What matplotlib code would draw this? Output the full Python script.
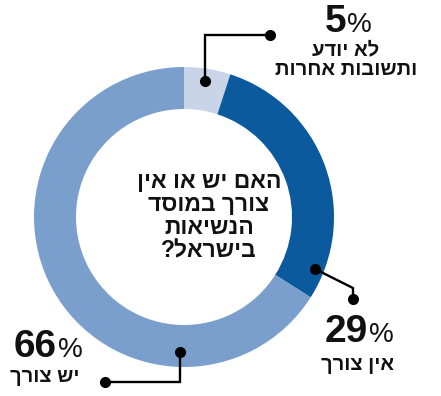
import matplotlib.pyplot as plt

plt.rcParams['font.family'] = ['Liberation Sans', 'DejaVu Sans']

# --- data ---
shares = [5, 29, 66]
colors = ['#c9d4e8', '#0b5a9e', '#7b9fcc']
pct_labels = ['5', '29', '66']
answer_labels = [['לא יודע', 'ותשובות אחרות'], ['אין צורך'], ['יש צורך']]
question = ['האם יש או אין', 'צורך במוסד', 'הנשיאות', 'בישראל?']

W, H = 441, 396


def rtl(s):
    # matplotlib has no bidi support, so flip Hebrew lines by hand
    return s[::-1]


def py(y):
    # pixel row (from top) -> data y
    return H - y


fig = plt.figure(figsize=(W / 100, H / 100), dpi=100)
ax = fig.add_axes([0, 0, 1, 1])

cx, cy = 184, py(217)
ax.pie(shares, colors=colors, startangle=90, counterclock=False,
       center=(cx, cy), radius=150, wedgeprops=dict(width=42, linewidth=0))
ax.set_xlim(0, W)
ax.set_ylim(0, H)
ax.set_aspect('auto')
ax.axis('off')

# centre question
for i, line in enumerate(question):
    ax.text(209, py(188 + i * 23), rtl(line), ha='center', va='baseline',
            fontsize=16.5, fontweight='bold', color='#111111')

# connector lines
connectors = [
    [(205, 81), (205, 35), (270, 35)],
    [(315, 269), (353, 288), (353, 299)],
    [(180, 352), (180, 382), (105, 382)],
]
for pts in connectors:
    xs = [p[0] for p in pts]
    ys = [py(p[1]) for p in pts]
    ax.plot(xs, ys, color='black', lw=1.7, solid_joinstyle='miter')
    ax.plot([xs[0], xs[-1]], [ys[0], ys[-1]], 'o', color='black', ms=7)

# percentage labels: (split x, baseline y)
pct_pos = [(346, 32), (368, 342), (57, 357)]
for (x, y), num in zip(pct_pos, pct_labels):
    ax.text(x, py(y), num, ha='right', va='baseline', fontsize=28,
            fontweight='bold', color='#111111')
    ax.text(x + 1, py(y), '%', ha='left', va='baseline', fontsize=20,
            color='#111111')

# answer labels: (x, first baseline y, align)
ans_pos = [(346, 55, 'center'), (358, 370, 'center'), (10, 382, 'left')]
for (x, y, ha), lines in zip(ans_pos, answer_labels):
    for j, line in enumerate(lines):
        ax.text(x, py(y + j * 20), rtl(line), ha=ha, va='baseline',
                fontsize=14.5, fontweight='bold', color='#111111')

fig.savefig('out.png', dpi=100)
